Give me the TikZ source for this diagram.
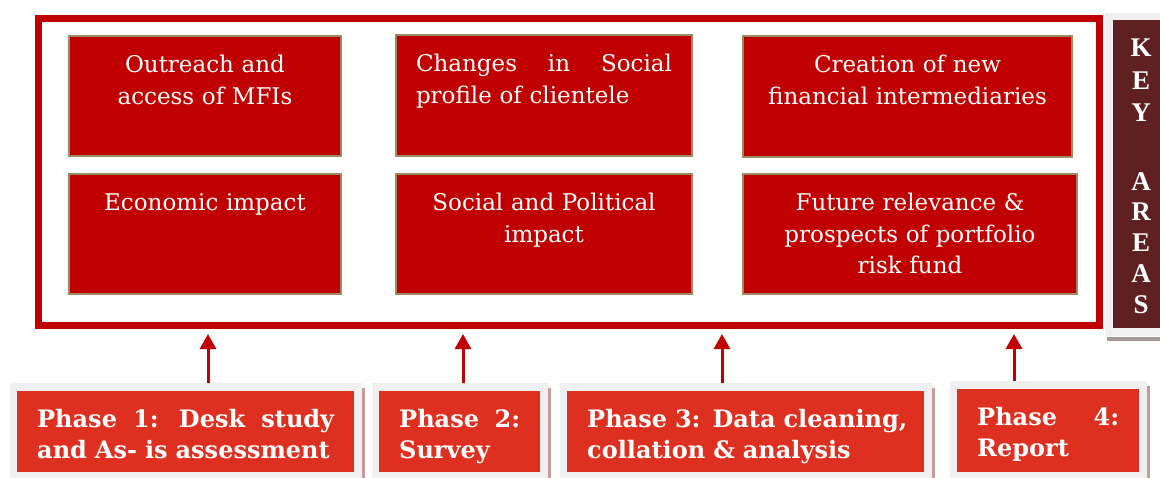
\documentclass[tikz,border=0pt]{standalone}
\usepackage{fontspec}
\setmainfont{DejaVu Serif}
\newfontfamily\keyfont{Liberation Serif}
\usetikzlibrary{arrows.meta}
\usetikzlibrary{positioning}

\definecolor{framered}{HTML}{C00000}
\definecolor{boxline}{HTML}{9A8C5C}
\definecolor{phasered}{HTML}{DE3020}
\definecolor{phasegray}{HTML}{F0F0F0}
\definecolor{shadowred}{HTML}{C49A9A}
\definecolor{keybrown}{HTML}{5E2020}
\definecolor{keyshade}{HTML}{A89898}

\tikzset{
	area/.style={draw=boxline,line width=2pt,fill=framered,inner sep=0pt,anchor=north west},
	areatext/.style={text=white,inner sep=0pt,anchor=north,font=\fontsize{23}{31.5}\selectfont},
	phasebase/.style={fill=phasegray,inner sep=0pt,anchor=north west},
	phasebox/.style={fill=phasered,inner sep=0pt,anchor=north west},
	phasetext/.style={text=white,inner sep=0pt,anchor=north west,align=left,font=\bfseries\fontsize{24}{31}\selectfont},
	keyletter/.style={text=white,inner sep=0pt,font=\keyfont\bfseries\fontsize{27}{27}\selectfont},
	uparrow/.style={draw=framered,line width=3pt,-{Triangle[width=16pt,length=15pt]}}
}

\begin{document}
\begin{tikzpicture}[x=1pt,y=-1pt]
	\useasboundingbox (0,0) rectangle (1160,477);

	% key areas frame
	\draw[framered,line width=7pt] (38.5,18.5) rectangle (1099.5,325.5);
	\foreach \n/\x/\y/\w/\h/\al/\txt in {
		1/68/35/272/120/center/{Outreach and\\access of MFIs},
		2/395/34/296/121/left/{Changes \hfill in \hfill Social\\profile of clientele},
		3/742/35/329/121/center/{Creation of new\\financial intermediaries},
		4/68/173/272/120/center/{Economic impact},
		5/395/173/296/120/center/{Social and Political\\impact},
		6/742/173/334/120/center/{Future relevance \&\\prospects of portfolio\\risk fund}}
	{
		\pgfmathsetmacro\tw{\w-40}
		\node[area,minimum width=\w pt,minimum height=\h pt] (b\n) at (\x,\y) {};
		\node[areatext,align=\al,text width=\tw pt] (bt\n) at ([yshift=-20pt]b\n.north) {\txt};
	}

	% side label
	\fill[phasegray] (1105,13) rectangle (1160,336);
	\fill[keyshade] (1107,337) rectangle (1160,341);
	\fill[keybrown] (1113,20) rectangle (1160,328);
	\foreach \ch/\y [count=\k] in {K/48,E/81,Y/113,A/182,R/212,E/243,A/274,S/305}
	\node[keyletter] (key\k) at (1141,\y) {\ch};

	% phases
	\foreach \n/\x/\y/\w/\txt in {
		1/17/391/337/{Phase \hfill 1: \hfill Desk \hfill study\\and As- is assessment},
		2/379/391/161/{Phase \hfill 2:\\Survey},
		3/567/391/357/{\mbox{Phase 3: Data cleaning,}\\\mbox{collation \& analysis}},
		4/957/389/182/{Phase \hfill 4:\\Report}}
	{
		\pgfmathsetmacro\tw{\w-40}
		\pgfmathsetmacro\gw{\w+15}
		\node[phasebase,minimum width=\gw pt,minimum height=100pt] (g\n) at (\x-7,\y-8) {};
		\fill[shadowred] ([yshift=-5pt]g\n.north east) rectangle ++(3,100);
		\node[phasebox,minimum width=\w pt,minimum height=472pt-\y pt] (p\n) at (\x,\y) {};
		\node[phasetext,text width=\tw pt] (pt\n) at ([xshift=20pt,yshift=-18pt]p\n.north west) {\txt};
	}

	\coordinate (a1) at (208,334);
	\coordinate (a2) at (463,334);
	\coordinate (a3) at (722,334);
	\coordinate (a4) at (1014,334);
	\foreach \n in {1,...,4}
	\draw[uparrow] (a\n |- g\n.north) -- (a\n);
\end{tikzpicture}
\end{document}
